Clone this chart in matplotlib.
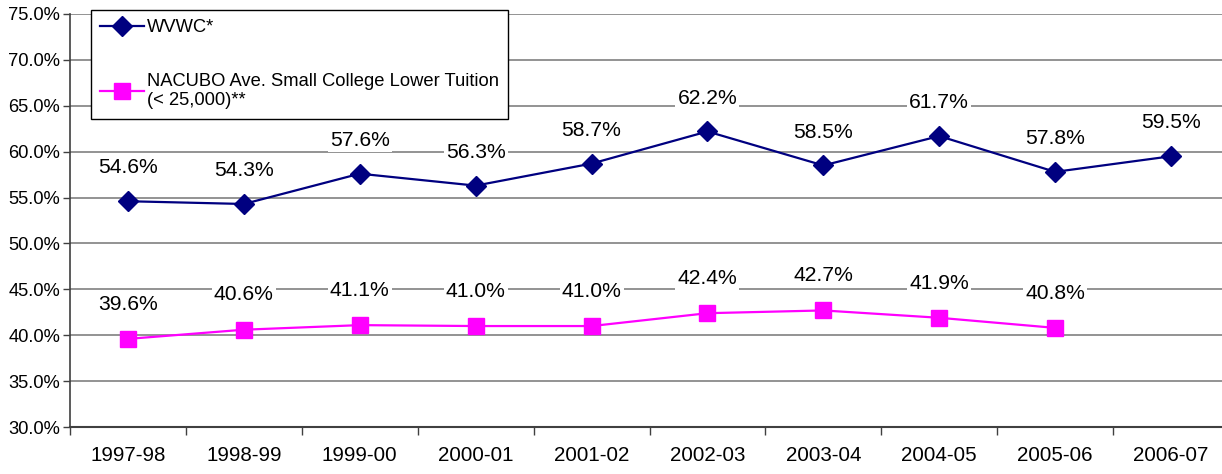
import matplotlib
matplotlib.use("Agg")
import matplotlib.pyplot as plt
import numpy as np

plt.rcParams['font.family'] = ['Liberation Sans', 'DejaVu Sans']

years = ["1997-98", "1998-99", "1999-00", "2000-01", "2001-02",
         "2002-03", "2003-04", "2004-05", "2005-06", "2006-07"]
wvwc = [54.6, 54.3, 57.6, 56.3, 58.7, 62.2, 58.5, 61.7, 57.8, 59.5]
nacubo = [39.6, 40.6, 41.1, 41.0, 41.0, 42.4, 42.7, 41.9, 40.8, None]
yticks = [30, 35, 40, 45, 50, 55, 60, 65, 70, 75]

W, H = 1222, 474
fig = plt.figure(figsize=(W / 100, H / 100), dpi=100)
left, right, top, bottom = 70, 1229, 14, 427
ax = fig.add_axes([left / W, 1 - bottom / H, (right - left) / W, (bottom - top) / H])

x = np.arange(len(years))
nx = [i for i, v in zip(x, nacubo) if v is not None]
nv = [v for v in nacubo if v is not None]

ax.plot(x, wvwc, color='#000080', lw=1.6, marker='D', ms=10, label='WVWC*', zorder=4)
ax.plot(nx, nv, color='#FF00FF', lw=1.6, marker='s', ms=12,
        label='NACUBO Ave. Small College Lower Tuition\n(< 25,000)**', zorder=4)

for xi, v in zip(x, wvwc):
    ax.annotate(f"{v:.1f}%", (xi, v), xytext=(0, 24), textcoords='offset points',
                ha='center', va='center', fontsize=15.2, zorder=5,
                bbox=dict(boxstyle='square,pad=0.1', fc='white', ec='none'))
for xi, v in zip(nx, nv):
    ax.annotate(f"{v:.1f}%", (xi, v), xytext=(0, 25), textcoords='offset points',
                ha='center', va='center', fontsize=15.2, zorder=5,
                bbox=dict(boxstyle='square,pad=0.1', fc='white', ec='none'))

ax.set_xlim(-0.5, len(years) - 0.5)
ax.set_ylim(30, 75)
ax.set_yticks(yticks)
ax.set_yticklabels([f"{t:.1f}%" for t in yticks], fontsize=13.2)
ax.set_xticks(x)
ax.set_xticklabels(years, fontsize=14.8)
ax.set_xticks(np.arange(-0.5, len(years)), minor=True)
ax.tick_params(axis='x', which='major', length=0, pad=14)
ax.tick_params(axis='x', which='minor', length=6, width=1, color='#404040')
ax.tick_params(axis='y', length=5, width=1, color='#404040', pad=2)

ax.grid(axis='y', color='#808080', lw=1.2, zorder=0)
ax.set_axisbelow(True)
for s in ['top', 'right']:
    ax.spines[s].set_visible(False)
ax.spines['left'].set_color('#404040')
ax.spines['bottom'].set_color('#404040')
ax.spines['bottom'].set_linewidth(1.5)
ax.spines['left'].set_linewidth(1.2)

leg = fig.legend(loc='upper left', bbox_to_anchor=(91 / W, 1 - 10 / H),
                 bbox_transform=fig.transFigure, fontsize=13.2, frameon=True,
                 fancybox=False, edgecolor='black', framealpha=1,
                 handlelength=2.4, labelspacing=2.0, borderpad=0.5,
                 handletextpad=0.15, borderaxespad=0)
leg.get_frame().set_linewidth(1.0)
leg.set_zorder(10)

fig.savefig("out.png", dpi=100)
